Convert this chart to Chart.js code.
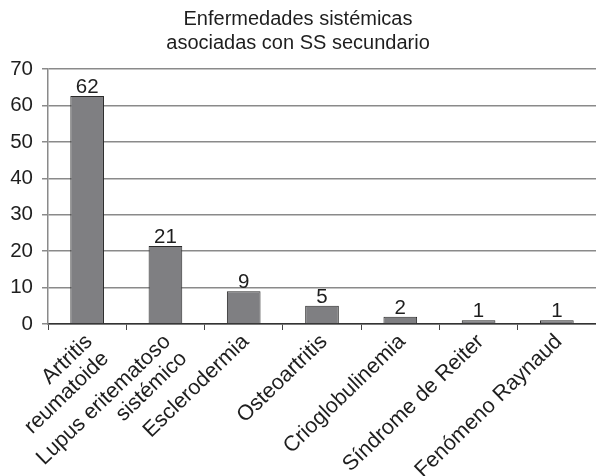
<!DOCTYPE html>
<html>
<head>
<meta charset="utf-8">
<script src="https://cdn.jsdelivr.net/npm/chart.js@4/dist/chart.umd.min.js"></script>
<style>
  html, body { margin: 0; padding: 0; background: #fff; }
  #wrap { width: 596px; height: 476px; }
</style>
</head>
<body>
<div id="wrap"><canvas id="c" width="596" height="476"></canvas></div>
<script>
const titleLines = ['Enfermedades sistémicas', 'asociadas con SS secundario'];
const categories = [
  ['Artritis', 'reumatoide'],
  ['Lupus eritematoso', 'sistémico'],
  'Esclerodermia',
  'Osteoartritis',
  'Crioglobulinemia',
  'Síndrome de Reiter',
  'Fenómeno Raynaud'
];
const values = [62.6, 21.4, 9, 5, 2, 1, 1];
const valueLabels = ['62', '21', '9', '5', '2', '1', '1'];
const yMin = 0, yMax = 70, yStep = 10;

const FONT = "'Liberation Sans', Arial, Helvetica, sans-serif";
const TEXT = '#1e1e1e';

const valueLabelPlugin = {
  id: 'valueLabels',
  afterDatasetsDraw(chart) {
    const ctx = chart.ctx;
    const meta = chart.getDatasetMeta(0);
    ctx.save();
    ctx.font = '20.5px ' + FONT;
    ctx.fillStyle = TEXT;
    ctx.textAlign = 'center';
    ctx.textBaseline = 'alphabetic';
    meta.data.forEach((bar, i) => {
      ctx.fillText(valueLabels[i], bar.x, bar.y - 3);
    });
    ctx.restore();
  }
};

new Chart(document.getElementById('c'), {
  type: 'bar',
  data: {
    labels: categories,
    datasets: [{
      data: values,
      backgroundColor: '#7f7f82',
      borderColor: '#2a2a2a',
      borderWidth: 1,
      categoryPercentage: 1,
      barPercentage: 0.43
    }]
  },
  options: {
    responsive: false,
    animation: false,
    devicePixelRatio: 1,
    layout: { padding: 0 },
    plugins: {
      legend: { display: false },
      tooltip: { enabled: false },
      title: {
        display: true,
        text: titleLines,
        color: TEXT,
        font: { family: FONT, size: 20, weight: 'normal', lineHeight: 1.2 },
        padding: { top: 7, bottom: 14 }
      }
    },
    scales: {
      x: {
        afterFit(scale) { scale.height = 152; scale.paddingLeft = 0; scale.paddingRight = 0; },
        grid: { display: true, drawOnChartArea: false, drawTicks: true, tickLength: 6, color: '#444', offset: true },
        border: { display: true, color: '#333', width: 1.5 },
        ticks: {
          color: TEXT,
          font: { family: FONT, size: 21.5, lineHeight: 1.1 },
          maxRotation: 44,
          minRotation: 44,
          autoSkip: false,
          padding: 0,
          labelOffset: 2
        }
      },
      y: {
        min: yMin,
        max: yMax,
        afterFit(scale) { scale.width = 48; },
        grid: { color: '#8a8a8a', lineWidth: 1.5, tickLength: 6, drawTicks: true },
        border: { display: true, color: '#8a8a8a', width: 1.5 },
        ticks: {
          stepSize: yStep,
          color: TEXT,
          font: { family: FONT, size: 20.5 },
          padding: 9
        }
      }
    }
  },
  plugins: [valueLabelPlugin]
});
</script>
</body>
</html>
